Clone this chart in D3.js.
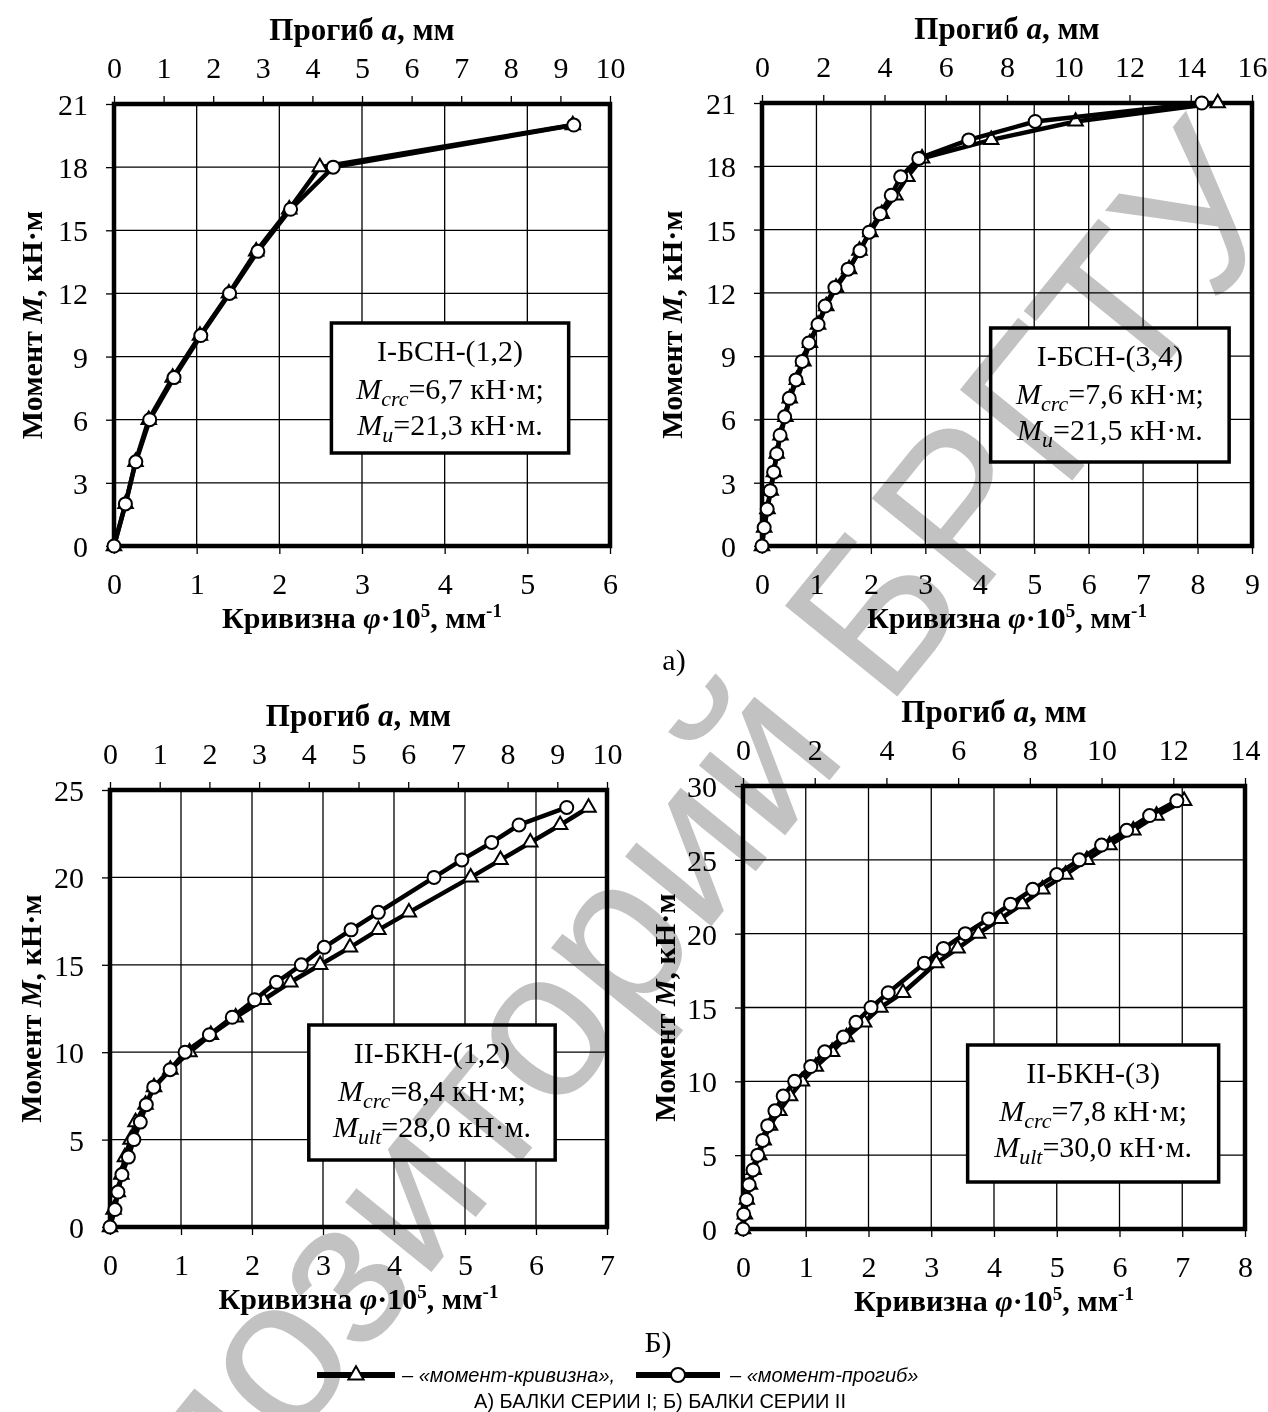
<!DOCTYPE html>
<html>
<head>
<meta charset="utf-8">
<script src="https://cdn.jsdelivr.net/npm/d3@7"></script>
<style>
  body { margin: 0; background: #fff; }
  svg text { font-family: "Liberation Serif", "Times New Roman", serif; fill: #000; }
</style>
</head>
<body>
<svg id="fig" width="1268" height="1412"></svg>
<script>
// ---- data ----
// chart a) left: I-БСН-(1,2)
var moment1 = [0, 2, 4, 6, 8, 10, 12, 14, 16, 18, 20];
var curv1   = [0, 0.14, 0.26, 0.42, 0.71, 1.04, 1.39, 1.72, 2.12, 2.49, 5.55];
var defl1   = [0, 0.23, 0.44, 0.72, 1.21, 1.75, 2.33, 2.90, 3.56, 4.42, 9.27];

// chart a) right: I-БСН-(3,4)
var moment2 = [0, 0.875, 1.75, 2.625, 3.5, 4.375, 5.25, 6.125, 7, 7.875, 8.75, 9.625, 10.5,
               11.375, 12.25, 13.125, 14, 14.875, 15.75, 16.625, 17.5, 18.375, 19.25, 20.125, 21];
var curv2   = [0, 0.04, 0.10, 0.16, 0.22, 0.27, 0.34, 0.43, 0.51, 0.64, 0.76, 0.88, 1.03,
               1.18, 1.36, 1.60, 1.79, 1.99, 2.20, 2.45, 2.67, 2.94, 4.21, 5.76, 8.37];
var defl2   = [0, 0.07, 0.17, 0.27, 0.38, 0.48, 0.59, 0.74, 0.89, 1.11, 1.31, 1.53, 1.83,
               2.06, 2.38, 2.81, 3.20, 3.50, 3.86, 4.22, 4.53, 5.12, 6.75, 8.92, 14.36];

// chart б) left: II-БКН-(1,2)
var moment3 = [0, 1, 2, 3, 4, 5, 6, 7, 8, 9, 10, 11, 12, 13, 14, 15, 16, 17, 18, 20, 21, 22, 23, 24];
var curv3   = [0, 0.05, 0.11, 0.16, 0.21, 0.29, 0.36, 0.50, 0.62, 0.85, 1.12, 1.42, 1.77, 2.16,
               2.54, 2.96, 3.38, 3.78, 4.21, 5.08, 5.50, 5.92, 6.34, 6.74];
var defl3   = [0, 0.10, 0.16, 0.24, 0.37, 0.48, 0.61, 0.73, 0.88, 1.21, 1.51, 2.00, 2.46, 2.91,
               3.35, 3.85, 4.31, 4.85, 5.40, 6.52, 7.08, 7.68, 8.23, 9.19];

// chart б) right: II-БКН-(3)
var moment4 = [0, 1, 2, 3, 4, 5, 6, 7, 8, 9, 10, 11, 12, 13, 14, 15, 16, 18, 19, 20, 21, 22, 23,
               24, 25, 26, 27, 28, 29];
var curv4   = [0, 0.03, 0.06, 0.11, 0.17, 0.26, 0.33, 0.43, 0.58, 0.75, 0.94, 1.16, 1.42, 1.65,
               1.93, 2.19, 2.55, 3.08, 3.42, 3.75, 4.10, 4.45, 4.77, 5.14, 5.48, 5.84, 6.22, 6.59, 7.03];
var defl4   = [0, 0.02, 0.10, 0.17, 0.28, 0.41, 0.55, 0.69, 0.89, 1.12, 1.44, 1.89, 2.28, 2.80,
               3.15, 3.57, 4.05, 5.06, 5.59, 6.20, 6.85, 7.46, 8.08, 8.75, 9.38, 10.00, 10.70, 11.34, 12.10];

// tick values
var yTicks1 = [0, 3, 6, 9, 12, 15, 18, 21];
var yTicks3 = [0, 5, 10, 15, 20, 25];
var yTicks4 = [0, 5, 10, 15, 20, 25, 30];
var curvTicks1 = [0, 1, 2, 3, 4, 5, 6];
var curvTicks2 = [0, 1, 2, 3, 4, 5, 6, 7, 8, 9];
var curvTicks3 = [0, 1, 2, 3, 4, 5, 6, 7];
var curvTicks4 = [0, 1, 2, 3, 4, 5, 6, 7, 8];
var deflTicks1 = [0, 1, 2, 3, 4, 5, 6, 7, 8, 9, 10];
var deflTicks2 = [0, 2, 4, 6, 8, 10, 12, 14, 16];
var deflTicks4 = [0, 2, 4, 6, 8, 10, 12, 14];

// annotation texts: name, M_crc, M_u
var names  = ["I-БСН-(1,2)", "I-БСН-(3,4)", "II-БКН-(1,2)", "II-БКН-(3)"];
var crcTxt = ["=6,7 кН·м;", "=7,6 кН·м;", "=8,4 кН·м;", "=7,8 кН·м;"];
var ultSub = ["u", "u", "ult", "ult"];
var ultTxt = ["=21,3 кН·м.", "=21,5 кН·м.", "=28,0 кН·м.", "=30,0 кН·м."];

var svg = d3.select("#fig");

// layout of each panel
var charts = [
  {left: 114, right: 610, top: 104, bottom: 546, yMax: 21, yTicks: yTicks1,
   xMax: 6, xTicks: curvTicks1, tMax: 10, tTicks: deflTicks1,
   m: moment1, c: curv1, d: defl1, box: [2.63, 5.5, 323, 453], yTitle: -83},
  {left: 762, right: 1252, top: 103, bottom: 546, yMax: 21, yTicks: yTicks1,
   xMax: 9, xTicks: curvTicks2, tMax: 16, tTicks: deflTicks2,
   m: moment2, c: curv2, d: defl2, box: [4.2, 8.58, 328, 462], yTitle: -91},
  {left: 110, right: 607, top: 790, bottom: 1227, yMax: 25, yTicks: yTicks3,
   xMax: 7, xTicks: curvTicks3, tMax: 10, tTicks: deflTicks1,
   m: moment3, c: curv3, d: defl3, box: [2.8, 6.27, 1025, 1160], yTitle: -80},
  {left: 743, right: 1245, top: 786, bottom: 1229, yMax: 30, yTicks: yTicks4,
   xMax: 8, xTicks: curvTicks4, tMax: 14, tTicks: deflTicks4,
   m: moment4, c: curv4, d: defl4, box: [3.58, 7.58, 1045, 1182], yTitle: -79}
];

function styleAxis(g) {
  g.attr("font-family", null).attr("font-size", 30);
  g.select(".domain").remove();
  g.selectAll(".tick line").attr("stroke", "#000").attr("stroke-width", 1.3);
}

charts.forEach(function(c, i) {
  var g = svg.append("g");
  var x = d3.scaleLinear().domain([0, c.xMax]).range([c.left, c.right]);
  var xt = d3.scaleLinear().domain([0, c.tMax]).range([c.left, c.right]);
  var y = d3.scaleLinear().domain([0, c.yMax]).range([c.bottom, c.top]);

  // grid lines
  g.selectAll(".vg").data(c.xTicks.slice(1, -1)).enter().append("line")
    .attr("x1", function(d) { return x(d); }).attr("x2", function(d) { return x(d); })
    .attr("y1", c.top).attr("y2", c.bottom)
    .attr("stroke", "#000").attr("stroke-width", 1.3);
  g.selectAll(".hg").data(c.yTicks.slice(1, -1)).enter().append("line")
    .attr("x1", c.left).attr("x2", c.right)
    .attr("y1", function(d) { return y(d); }).attr("y2", function(d) { return y(d); })
    .attr("stroke", "#000").attr("stroke-width", 1.3);

  // axes
  g.append("g").attr("transform", "translate(0," + c.bottom + ")")
    .call(d3.axisBottom(x).tickValues(c.xTicks).tickSize(8).tickFormat(d3.format("d")))
    .call(styleAxis)
    .selectAll("text").attr("y", 48).attr("dy", null);
  g.append("g").attr("transform", "translate(0," + c.top + ")")
    .call(d3.axisTop(xt).tickValues(c.tTicks).tickSize(8).tickFormat(d3.format("d")))
    .call(styleAxis)
    .selectAll("text").attr("y", -26).attr("dy", null);
  g.append("g").attr("transform", "translate(" + c.left + ",0)")
    .call(d3.axisLeft(y).tickValues(c.yTicks).tickSize(8).tickFormat(d3.format("d")))
    .call(styleAxis)
    .selectAll("text").attr("x", -26).attr("dy", "0.35em");

  // frame
  g.append("rect")
    .attr("x", c.left).attr("y", c.top)
    .attr("width", c.right - c.left).attr("height", c.bottom - c.top)
    .attr("fill", "none").attr("stroke", "#000").attr("stroke-width", 4.5);

  // annotation box
  var bx0 = x(c.box[0]), bx1 = x(c.box[1]), by0 = c.box[2], by1 = c.box[3];
  g.append("rect").attr("x", bx0).attr("y", by0)
    .attr("width", bx1 - bx0).attr("height", by1 - by0)
    .attr("fill", "#fff").attr("stroke", "#000").attr("stroke-width", 3.5);
  var cx = (bx0 + bx1) / 2;
  g.append("text").attr("x", cx).attr("y", by0 + 38).attr("text-anchor", "middle")
    .attr("font-size", 30).text(names[i]);
  var t2 = g.append("text").attr("x", cx).attr("y", by0 + 76).attr("text-anchor", "middle")
    .attr("font-size", 30);
  t2.append("tspan").attr("font-style", "italic").text("M");
  t2.append("tspan").attr("font-style", "italic").attr("font-size", 22).attr("dy", 7).text("crc");
  t2.append("tspan").attr("dy", -7).text(crcTxt[i]);
  var t3 = g.append("text").attr("x", cx).attr("y", by0 + 112).attr("text-anchor", "middle")
    .attr("font-size", 30);
  t3.append("tspan").attr("font-style", "italic").text("M");
  t3.append("tspan").attr("font-style", "italic").attr("font-size", 22).attr("dy", 7).text(ultSub[i]);
  t3.append("tspan").attr("dy", -7).text(ultTxt[i]);

  // axis titles
  var mid = (c.left + c.right) / 2;
  var tt = g.append("text").attr("x", mid).attr("y", c.top - 64)
    .attr("text-anchor", "middle").attr("font-size", 31).attr("font-weight", "bold");
  tt.append("tspan").text("Прогиб ");
  tt.append("tspan").attr("font-style", "italic").text("a");
  tt.append("tspan").text(", мм");

  var bt = g.append("text").attr("x", mid).attr("y", c.bottom + 82)
    .attr("text-anchor", "middle").attr("font-size", 30).attr("font-weight", "bold");
  bt.append("tspan").text("Кривизна ");
  bt.append("tspan").attr("font-style", "italic").text("φ");
  bt.append("tspan").text("·10");
  bt.append("tspan").attr("font-size", 19).attr("dy", -11).text("5");
  bt.append("tspan").attr("dy", 11).text(", мм");
  bt.append("tspan").attr("font-size", 19).attr("dy", -11).text("-1");

  var ymid = (c.top + c.bottom) / 2;
  var yt = g.append("text")
    .attr("transform", "translate(" + (c.left + c.yTitle) + "," + ymid + ") rotate(-90)")
    .attr("text-anchor", "middle").attr("dy", "0.35em")
    .attr("font-size", 30).attr("font-weight", "bold");
  yt.append("tspan").text("Момент ");
  yt.append("tspan").attr("font-style", "italic").text("M");
  yt.append("tspan").text(", кН·м");

  // series: moment-curvature (triangles, bottom axis)
  var tri = c.m.map(function(v, k) { return [c.c[k], v]; });
  var cir = c.m.map(function(v, k) { return [c.d[k], v]; });
  var lineC = d3.line().x(function(p) { return x(p[0]); }).y(function(p) { return y(p[1]); });
  var lineD = d3.line().x(function(p) { return xt(p[0]); }).y(function(p) { return y(p[1]); });

  g.append("path").datum(tri).attr("d", lineC)
    .attr("fill", "none").attr("stroke", "#000").attr("stroke-width", 4.5).attr("stroke-linejoin", "round");
  g.selectAll(".tri").data(tri).enter().append("path")
    .attr("d", d3.symbol(d3.symbolTriangle, 90))
    .attr("transform", function(p) { return "translate(" + x(p[0]) + "," + y(p[1]) + ")"; })
    .attr("fill", "#fff").attr("stroke", "#000").attr("stroke-width", 2);

  // series: moment-deflection (circles, top axis)
  g.append("path").datum(cir).attr("d", lineD)
    .attr("fill", "none").attr("stroke", "#000").attr("stroke-width", 4.5).attr("stroke-linejoin", "round");
  g.selectAll(".cir").data(cir).enter().append("circle")
    .attr("cx", function(p) { return xt(p[0]); }).attr("cy", function(p) { return y(p[1]); })
    .attr("r", 6.5)
    .attr("fill", "#fff").attr("stroke", "#000").attr("stroke-width", 2);
});

// panel captions
svg.append("text").attr("x", 674).attr("y", 670).attr("text-anchor", "middle")
  .attr("font-size", 30).text("а)");
svg.append("text").attr("x", 658).attr("y", 1352).attr("text-anchor", "middle")
  .attr("font-size", 30).text("Б)");

// legend
var narrow = '"Liberation Sans Narrow", "Arial Narrow", "Liberation Sans", sans-serif';
var lg = svg.append("g");
lg.append("line").attr("x1", 317).attr("x2", 395).attr("y1", 1375).attr("y2", 1375)
  .attr("stroke", "#000").attr("stroke-width", 6);
lg.append("path").attr("d", d3.symbol(d3.symbolTriangle, 100))
  .attr("transform", "translate(356,1375)")
  .attr("fill", "#fff").attr("stroke", "#000").attr("stroke-width", 2);
lg.append("text").attr("x", 402).attr("y", 1382).attr("font-size", 20)
  .attr("font-style", "italic").style("font-family", narrow).text("– «момент-кривизна»,");
lg.append("line").attr("x1", 636).attr("x2", 720).attr("y1", 1375).attr("y2", 1375)
  .attr("stroke", "#000").attr("stroke-width", 6);
lg.append("circle").attr("cx", 678).attr("cy", 1375).attr("r", 7)
  .attr("fill", "#fff").attr("stroke", "#000").attr("stroke-width", 2);
lg.append("text").attr("x", 730).attr("y", 1382).attr("font-size", 20)
  .attr("font-style", "italic").style("font-family", narrow).text("– «момент-прогиб»");
lg.append("text").attr("x", 660).attr("y", 1408).attr("text-anchor", "middle").attr("font-size", 20)
  .style("font-family", narrow).text("А) БАЛКИ СЕРИИ I; Б) БАЛКИ СЕРИИ II");

// watermark
svg.append("text")
  .attr("transform", "translate(680,965) rotate(-51)")
  .attr("text-anchor", "middle")
  .attr("font-size", 210)
  .style("font-family", '"Liberation Sans", Arial, sans-serif')
  .style("fill", "#c2c2c2")
  .style("mix-blend-mode", "multiply")
  .text("Репозиторий БРГТУ");
</script>
</body>
</html>
